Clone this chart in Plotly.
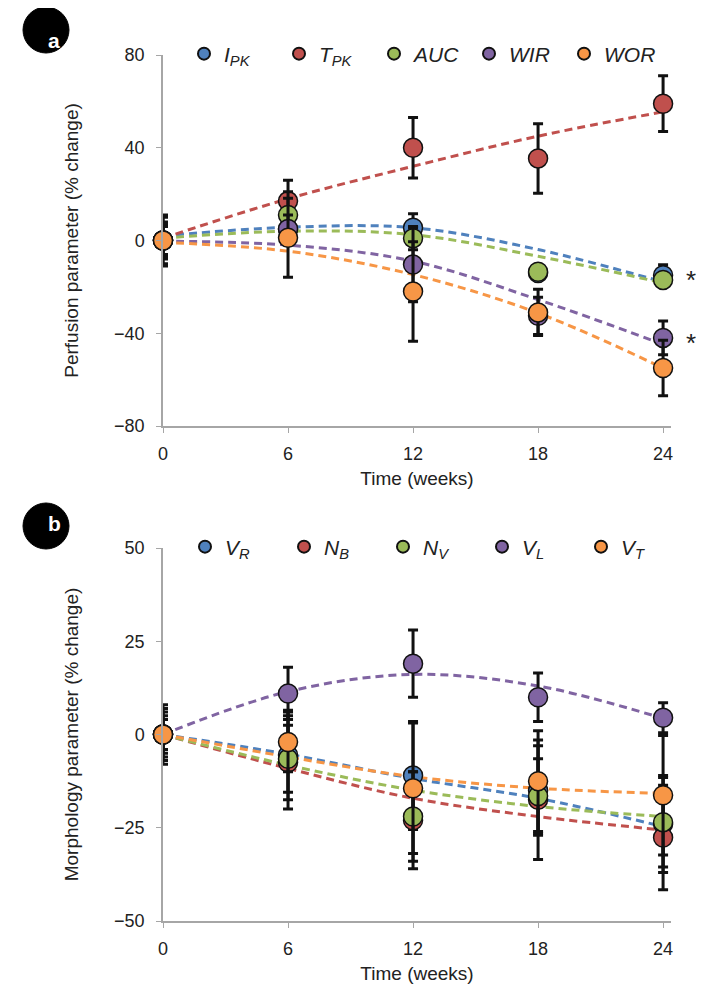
import plotly.graph_objects as go
from plotly.subplots import make_subplots

weeks = [0, 6, 12, 18, 24]
x_ticks = [0, 6, 12, 18, 24]

# Panel a: perfusion parameters (% change), group means
perf_names = ["<i>I<sub>PK</sub></i>", "<i>T<sub>PK</sub></i>", "<i>AUC</i>", "<i>WIR</i>", "<i>WOR</i>"]
ipk = [0, 5, 5.5, -14, -15]
tpk = [0, 17, 40, 35.4, 59]
auc = [0, 11, 1, -13.5, -17]
wir = [0, 5, -10.4, -32.5, -42]
wor = [0, 1.2, -22, -31, -55]
ipk_err = [8, 4, 6, 3, 4.5]
tpk_err = [10, 9, 13, 15, 12]
auc_err = [6, 10, 5, 3, 3]
wir_err = [7, 6, 16, 8, 7.3]
wor_err = [11, 17, 21.5, 10, 12]
# dashed trend lines (at each week)
ipk_tr = [2, 5.7, 5.5, -3.9, -17.9]
tpk_tr = [1, 18, 32, 45, 55.5]
auc_tr = [1, 4, 2.5, -6.8, -18.3]
wir_tr = [-0.3, -2, -8.9, -25.5, -44.8]
wor_tr = [-0.8, -4.6, -14.7, -31.3, -55]
perf_ticks = [-80, -40, 0, 40, 80]

# Panel b: morphology parameters (% change), group means
morph_names = ["<i>V<sub>R</sub></i>", "<i>N<sub>B</sub></i>", "<i>N<sub>V</sub></i>", "<i>V<sub>L</sub></i>", "<i>V<sub>T</sub></i>"]
vr = [0, -5.5, -11, -15, -24]
nb = [0, -7.5, -23, -17.5, -27.6]
nv = [0, -6.5, -22, -16.5, -23.5]
vl = [0, 11, 19, 10, 4.5]
vt = [0, -2, -14.4, -12.5, -16.3]
vr_err = [6, 12, 14.5, 12, 13]
nb_err = [5, 12.5, 13, 16, 14]
nv_err = [8, 9, 12, 10, 12]
vl_err = [4, 7, 9, 6.5, 4]
vt_err = [7, 8, 17.5, 13.5, 16]
vr_tr = [0, -5.3, -11.8, -17.1, -24.7]
nb_tr = [0, -9.1, -17.1, -22, -25.6]
nv_tr = [0, -8.2, -14.9, -19.3, -22]
vl_tr = [0, 11.5, 16.1, 13, 4.3]
vt_tr = [0, -6, -11.3, -14.4, -15.8]
morph_ticks = [-50, -25, 0, 25, 50]

colors = ["#4f81bd", "#c0504d", "#9bbb59", "#8064a2", "#f79646"]
FONT = "Liberation Sans, Arial, sans-serif"

W, H = 704, 994
ML, MR, MT, MB = 155, 41, 47, 81
PW = W - ML - MR
PH = H - MT - MB


def px2x(px):
    return (px - ML) / PW


def px2y(py):
    return (H - MB - py) / PH


top_dom = [px2y(418), 1.0]
bot_dom = [0.0, px2y(540)]

fig = make_subplots(rows=2, cols=1)


def add_panel(row, names, series, errs, trends, legend):
    for i, tr in enumerate(trends):
        fig.add_trace(go.Scatter(x=weeks, y=tr, mode="lines", showlegend=False,
                                 line=dict(color=colors[i], width=3, dash="8px,5px",
                                           shape="spline", smoothing=1.0),
                                 hoverinfo="skip"), row=row, col=1)
    for i, ys in enumerate(series):
        fig.add_trace(go.Scatter(
            x=weeks, y=ys, mode="markers", name=names[i], legend=legend,
            marker=dict(size=19, color=colors[i], line=dict(color="#111", width=1.5)),
            error_y=dict(type="data", array=errs[i], color="#111", thickness=3, width=5),
            cliponaxis=False), row=row, col=1)


add_panel(1, perf_names, [ipk, tpk, auc, wir, wor],
          [ipk_err, tpk_err, auc_err, wir_err, wor_err],
          [ipk_tr, tpk_tr, auc_tr, wir_tr, wor_tr], "legend")
add_panel(2, morph_names, [vr, nb, nv, vl, vt],
          [vr_err, nb_err, nv_err, vl_err, vt_err],
          [vr_tr, nb_tr, nv_tr, vl_tr, vt_tr], "legend2")

axis_common = dict(showgrid=False, zeroline=False, showline=True, linecolor="#a6a6a6",
                   linewidth=1.5, ticks="outside", ticklen=5, tickcolor="#a6a6a6",
                   tickfont=dict(size=18, color="#222", family=FONT))

for r in (1, 2):
    fig.update_xaxes(range=[0, 24.38], tickvals=x_ticks, domain=[0, 1], ticklabelstandoff=6,
                     title=dict(text="Time (weeks)", font=dict(size=19, color="#222", family=FONT), standoff=8),
                     row=r, col=1, **axis_common)

fig.update_yaxes(range=[-80, 80], tickvals=perf_ticks, domain=top_dom, ticklabelstandoff=8,
                 title=dict(text="Perfusion parameter (% change)", font=dict(size=19, color="#222", family=FONT), standoff=30),
                 row=1, col=1, **axis_common)
fig.update_yaxes(range=[-50, 50], tickvals=morph_ticks, domain=bot_dom, ticklabelstandoff=8,
                 title=dict(text="Morphology parameter (% change)", font=dict(size=19, color="#222", family=FONT), standoff=30),
                 row=2, col=1, **axis_common)

leg_common = dict(orientation="h", xanchor="left", yanchor="middle", itemsizing="constant",
                  bgcolor="rgba(0,0,0,0)", font=dict(size=21, color="#222", family=FONT),
                  entrywidthmode="pixels")

fig.update_layout(
    width=W, height=H, margin=dict(l=ML, r=MR, t=MT, b=MB),
    paper_bgcolor="white", plot_bgcolor="white",
    font=dict(family=FONT, color="#222"),
    legend=dict(x=px2x(176), y=px2y(46), entrywidth=50, **leg_common),
    legend2=dict(x=px2x(177), y=px2y(539), entrywidth=54, **leg_common),
)

# panel labels
for label, cy in [("a", 22), ("b", 518)]:
    fig.add_shape(type="circle", xref="paper", yref="paper",
                  x0=px2x(38 - 23), x1=px2x(38 + 23), y0=px2y(cy + 23), y1=px2y(cy - 23),
                  fillcolor="black", line=dict(color="black", width=1))
    fig.add_annotation(text="<b>%s</b>" % label, xref="paper", yref="paper",
                       x=px2x(38), y=px2y(cy), showarrow=False, yshift=3,
                       font=dict(size=21, color="white", family=FONT))

# significance asterisks
for yv in [-15.5, -42.3]:
    fig.add_annotation(text="*", x=24, y=yv, xref="x", yref="y", xshift=28, yshift=-4,
                       showarrow=False, font=dict(size=26, color="#222", family=FONT))

fig.write_html("out.html")
